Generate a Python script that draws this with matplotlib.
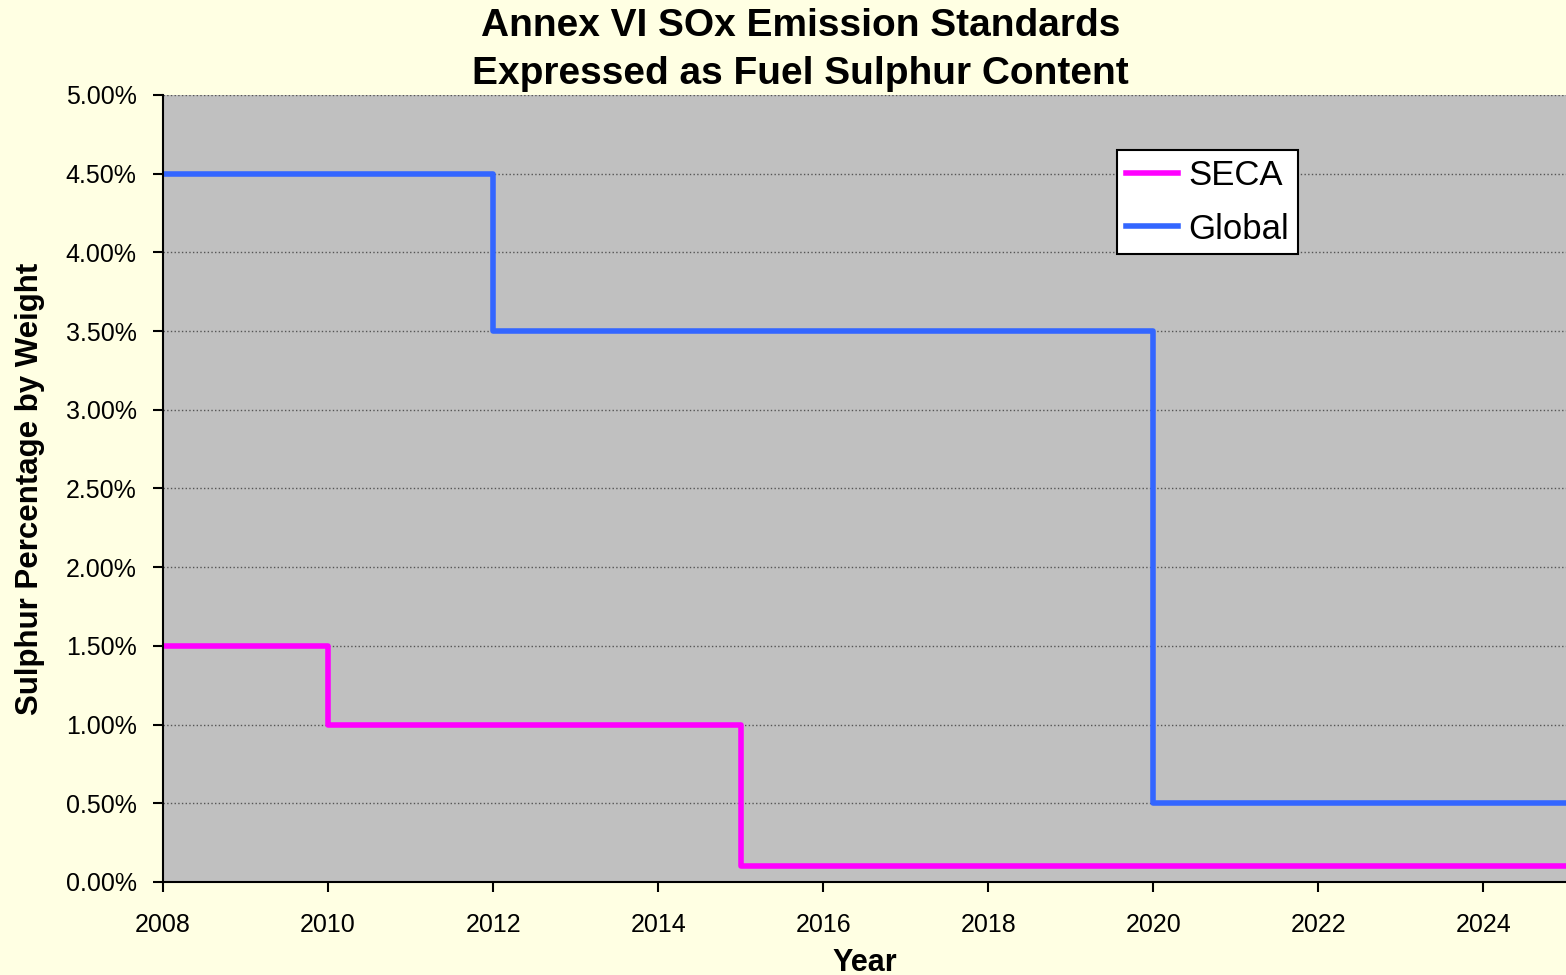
import matplotlib
matplotlib.use('Agg')
import matplotlib.pyplot as plt
from matplotlib.ticker import PercentFormatter, MultipleLocator

plt.rcParams['font.family'] = ['Liberation Sans', 'DejaVu Sans']

# step changes (value holds until next year listed)
secaYears = [2008, 2010, 2015, 2025]
secaValues = [1.5, 1.0, 0.1, 0.1]
globalYears = [2008, 2012, 2020, 2025]
globalValues = [4.5, 3.5, 0.5, 0.5]

fig = plt.figure(figsize=(15.66, 9.75), dpi=100, facecolor='#FFFFE3')
ax = fig.add_axes([0.1041, 0.0954, 0.8959, 0.8072])
ax.set_facecolor('#C0C0C0')

ax.step(secaYears, secaValues, where='post', color='#FF00FF', linewidth=4, label='SECA')
ax.step(globalYears, globalValues, where='post', color='#3366FF', linewidth=4, label='Global')

ax.set_xlim(2008, 2025)
ax.set_ylim(0, 5)
ax.xaxis.set_major_locator(MultipleLocator(2))
ax.yaxis.set_major_locator(MultipleLocator(0.5))
ax.yaxis.set_major_formatter(PercentFormatter(xmax=100, decimals=2))
ax.grid(axis='y', color='#555555', linestyle=':', linewidth=1.0)
ax.set_axisbelow(True)

for s in ['top', 'right']:
    ax.spines[s].set_visible(False)
for s in ['left', 'bottom']:
    ax.spines[s].set_linewidth(1.5)
    ax.spines[s].set_color('black')

ax.tick_params(axis='both', labelsize=18, length=7, width=1.5, direction='out')
ax.tick_params(axis='x', pad=15)
ax.tick_params(axis='y', pad=12)

fig.text(0.511, 0.992, 'Annex VI SOx Emission Standards\nExpressed as Fuel Sulphur Content',
         fontsize=28, fontweight='bold', ha='center', va='top', linespacing=1.42)
ax.set_xlabel('Year', fontsize=22, fontweight='bold', labelpad=8)
ax.set_ylabel('Sulphur Percentage by Weight', fontsize=22.5, fontweight='bold', labelpad=15)

leg = ax.legend(loc='upper left', bbox_to_anchor=(0.680, 0.930), fontsize=25,
                fancybox=False, framealpha=1, edgecolor='black', handlelength=1.5,
                borderpad=0.25, labelspacing=0.6, handletextpad=0.3, borderaxespad=0)
leg.get_frame().set_linewidth(1.5)

fig.savefig('out.png', dpi=100, facecolor=fig.get_facecolor())
